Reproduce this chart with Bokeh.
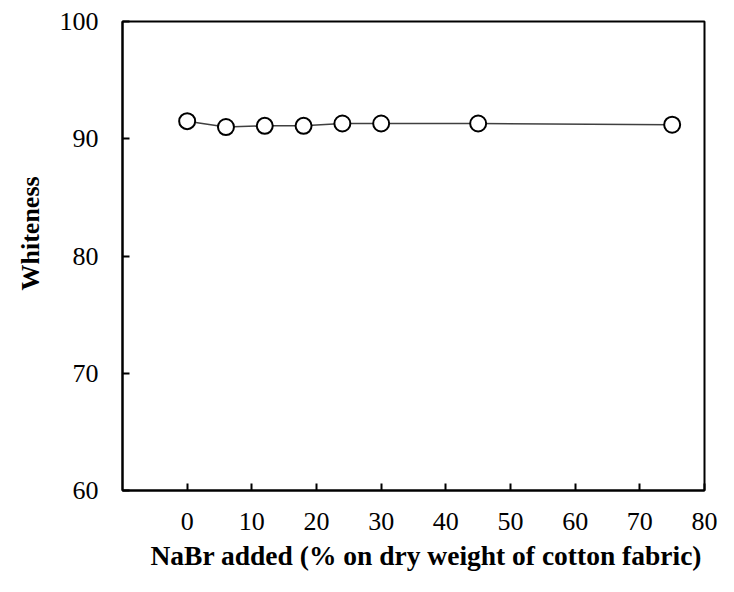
from bokeh.plotting import figure
from bokeh.models import FixedTicker, Range1d, Title
from bokeh.embed import file_html
from bokeh.resources import INLINE

# Data
nabr_added = [0, 6, 12, 18, 24, 30, 45, 75]
whiteness = [91.5, 91.0, 91.1, 91.1, 91.3, 91.3, 91.3, 91.2]
x_ticks = [0, 10, 20, 30, 40, 50, 60, 70, 80]
y_ticks = [60, 70, 80, 90, 100]

FONT = "Liberation Serif"

p = figure(width=718, height=576, output_backend="svg", toolbar_location=None,
           x_range=Range1d(-10, 80), y_range=Range1d(60, 100),
           min_border_left=122, min_border_right=14, min_border_top=21,
           min_border_bottom=86, border_fill_color="white")

p.line(nabr_added, whiteness, line_color="#404040", line_width=1.5)
p.scatter(nabr_added, whiteness, marker="circle", size=16, fill_color="white",
          line_color="black", line_width=2)

p.xgrid.visible = False
p.ygrid.visible = False
p.outline_line_color = "black"
p.outline_line_width = 2
p.outline_line_alpha = 1

for ax in (p.xaxis[0], p.yaxis[0]):
    ax.axis_line_color = "black"
    ax.axis_line_width = 2
    ax.major_tick_in = 7
    ax.major_tick_out = 0
    ax.major_tick_line_width = 2
    ax.minor_tick_line_color = None
    ax.major_label_text_font = FONT
    ax.major_label_text_font_size = "26px"
    ax.major_label_text_color = "black"

p.xaxis[0].ticker = FixedTicker(ticks=x_ticks)
p.yaxis[0].ticker = FixedTicker(ticks=y_ticks)
p.xaxis[0].major_label_standoff = 22
p.yaxis[0].major_label_standoff = 24

xtitle = Title(text="NaBr added (% on dry weight of cotton fabric)", align="left",
               offset=28, standoff=10, text_font=FONT, text_font_style="bold",
               text_font_size="27.5px", text_color="black")
p.add_layout(xtitle, "below")

ytitle = Title(text="Whiteness", align="left", offset=200, standoff=24,
               text_font=FONT, text_font_style="bold", text_font_size="26px",
               text_color="black")
p.add_layout(ytitle, "left")

open("out.html", "w").write(file_html(p, INLINE))
